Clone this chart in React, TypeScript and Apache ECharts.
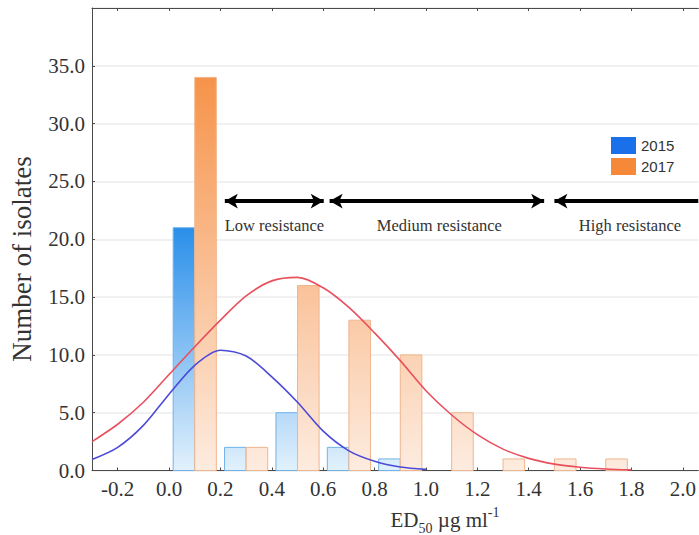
import React, { useEffect, useRef } from "react";
import * as echarts from "echarts";

// Histogram bins (centres, width 0.2) and counts
const binCentres = [0.1, 0.3, 0.5, 0.7, 0.9, 1.1, 1.3, 1.5, 1.7];
const counts2015 = [21, 2, 5, 2, 1, 0, 0, 0, 0];
const counts2017 = [34, 2, 16, 13, 10, 5, 1, 1, 1];

// Fitted curves
const fitX2015 = [-0.3, -0.2, -0.1, 0.0, 0.1, 0.2, 0.3, 0.4, 0.5, 0.6, 0.7, 0.8, 0.9, 1.0];
const fitY2015 = [0.95, 2.0, 3.9, 6.6, 9.1, 10.4, 9.9, 8.1, 5.9, 3.4, 1.7, 0.8, 0.3, 0.1];
const fitX2017 = [-0.3, -0.2, -0.1, 0.0, 0.1, 0.2, 0.3, 0.4, 0.5, 0.6, 0.7, 0.8, 0.9, 1.0, 1.1, 1.2, 1.3, 1.4, 1.5, 1.6, 1.7, 1.8];
const fitY2017 = [2.5, 4.0, 5.9, 8.3, 10.7, 13.0, 15.1, 16.4, 16.7, 15.8, 14.1, 11.9, 9.5, 6.9, 4.8, 3.1, 1.85, 1.05, 0.55, 0.28, 0.13, 0.05];

const xTickValues = [-0.2, 0.0, 0.2, 0.4, 0.6, 0.8, 1.0, 1.2, 1.4, 1.6, 1.8, 2.0];

// Resistance classes: [start, end, label]
const classStarts = [0.217, 0.625, 1.5];
const classEnds = [0.602, 1.46, 2.06];
const classLabels = ["Low resistance", "Medium resistance", "High resistance"];
const classLabelX = [0.41, 1.052, 1.794];

const BAR_W = 0.084;
const SERIF = "'Liberation Serif', 'Times New Roman', serif";
const SANS = "'Liberation Sans', Arial, sans-serif";

function makeBarSeries(name: string, counts: number[], side: number, top: string, bottom: string, stroke: string, legendColor: string) {
  const maxV = Math.max(...counts);
  return {
    name,
    type: "custom",
    xAxisIndex: 0,
    yAxisIndex: 0,
    encode: { x: 0, y: 1 },
    itemStyle: { color: legendColor },
    data: binCentres.map((c, i) => [c, counts[i]]),
    renderItem: (params: any, api: any) => {
      const c = api.value(0);
      const v = api.value(1);
      if (!v) return null;
      const x0 = side < 0 ? c - BAR_W : c;
      const x1 = side < 0 ? c : c + BAR_W;
      const p0 = api.coord([x0, 0]);
      const p1 = api.coord([x1, v]);
      const gTop = api.coord([0, maxV])[1];
      const gBot = api.coord([0, 0])[1];
      return {
        type: "rect",
        shape: { x: p0[0], y: p1[1], width: p1[0] - p0[0], height: p0[1] - p1[1] },
        style: {
          fill: new echarts.graphic.LinearGradient(0, gTop, 0, gBot, [
            { offset: 0, color: top },
            { offset: 1, color: bottom },
          ], true),
          stroke,
          lineWidth: 1,
        },
      };
    },
  };
}

export default function App() {
  const ref = useRef<HTMLDivElement>(null);
  useEffect(() => {
    if (!ref.current) return;
    const chart = echarts.init(ref.current, undefined, { renderer: "svg" });
    const axisColor = "#4a4a4a";
    chart.setOption({
      animation: false,
      backgroundColor: "#ffffff",
      grid: { left: 92, right: 0, top: 8, bottom: 64.5, containLabel: false },
      legend: {
        data: ["2015", "2017"],
        orient: "vertical",
        left: 606,
        top: 132,
        itemWidth: 25,
        itemHeight: 17,
        itemGap: 4,
        icon: "rect",
        textStyle: { fontFamily: SANS, fontSize: 15, color: "#333" },
      },
      xAxis: [
        {
          type: "value",
          min: -0.3,
          max: 2.06,
          axisLine: { show: true, onZero: false, lineStyle: { color: axisColor, width: 1 } },
          axisTick: { show: true, inside: true, length: 3, customValues: xTickValues, lineStyle: { color: axisColor } },
          axisLabel: {
            show: true,
            customValues: xTickValues,
            formatter: (v: number) => v.toFixed(1),
            fontFamily: SERIF,
            fontSize: 21,
            color: "#333",
            margin: 8,
          },
          splitLine: { show: false },
        },
        {
          type: "value",
          position: "top",
          min: -0.3,
          max: 2.06,
          axisLine: { show: true, onZero: false, lineStyle: { color: axisColor, width: 1 } },
          axisTick: { show: true, inside: true, length: 3, customValues: xTickValues, lineStyle: { color: axisColor } },
          axisLabel: { show: false },
          splitLine: { show: false },
        },
      ],
      yAxis: {
        type: "value",
        min: 0,
        max: 40,
        interval: 5,
        axisLine: { show: true, onZero: false, lineStyle: { color: axisColor, width: 1 } },
        axisTick: { show: true, inside: true, length: 3, lineStyle: { color: axisColor } },
        axisLabel: {
          formatter: (v: number) => (v >= 40 ? "" : v.toFixed(1)),
          fontFamily: SERIF,
          fontSize: 21,
          color: "#333",
          margin: 7,
        },
        splitLine: { show: true, lineStyle: { color: "#ececec", width: 1.5 } },
      },
      series: [
        makeBarSeries("2015", counts2015, -1, "#2a8fea", "#e2f1fc", "#6fb3ea", "#1a70ea"),
        makeBarSeries("2017", counts2017, 1, "#f6934a", "#fdece0", "#efb68e", "#f6883a"),
        {
          name: "fit2015",
          type: "line",
          smooth: 0.3,
          showSymbol: false,
          clip: true,
          data: fitX2015.map((x, i) => [x, fitY2015[i]]),
          lineStyle: { color: "#4c4ad8", width: 1.6 },
          itemStyle: { color: "#4c4ad8" },
          z: 5,
        },
        {
          name: "fit2017",
          type: "line",
          smooth: 0.3,
          showSymbol: false,
          clip: true,
          data: fitX2017.map((x, i) => [x, fitY2017[i]]),
          lineStyle: { color: "#e8505e", width: 1.6 },
          itemStyle: { color: "#e8505e" },
          z: 5,
          markLine: {
            silent: true,
            label: { show: false },
            lineStyle: { color: "#000", width: 4, type: "solid" },
            symbolSize: [11, 13],
            data: classStarts.map((s, i) => [
              { coord: [s, 23.3], symbol: "arrow" },
              { coord: [classEnds[i], 23.3], symbol: i === 2 ? "none" : "arrow" },
            ]),
          },
          markPoint: {
            silent: true,
            symbol: "rect",
            symbolSize: 1,
            itemStyle: { color: "rgba(0,0,0,0)" },
            label: {
              show: true,
              position: "inside",
              formatter: (p: any) => p.name,
              fontFamily: SERIF,
              fontSize: 16.5,
              color: "#333",
            },
            data: classLabels.map((l, i) => ({ name: l, coord: [classLabelX[i], 21.2] })),
          },
        },
      ],
      graphic: [
        {
          type: "text",
          x: 22,
          y: 259,
          rotation: Math.PI / 2,
          style: {
            text: "Number of isolates",
            fontFamily: SERIF,
            fontSize: 27,
            fill: "#333",
            textAlign: "center",
            textVerticalAlign: "middle",
          },
        },
        {
          type: "text",
          x: 445,
          y: 520,
          style: {
            text: "ED{sub|50} µg ml{sup|-1}",
            fontFamily: SERIF,
            fontSize: 21,
            fill: "#333",
            textAlign: "center",
            textVerticalAlign: "middle",
            rich: {
              sub: { fontFamily: SERIF, fontSize: 14, fill: "#333", verticalAlign: "bottom", lineHeight: 14, padding: [0, 0, -5, 0] },
              sup: { fontFamily: SERIF, fontSize: 14, fill: "#333", verticalAlign: "top", lineHeight: 14, padding: [-4, 0, 0, 0] },
            },
          },
        },
      ],
    });
    return () => chart.dispose();
  }, []);
  return <div ref={ref} style={{ width: 699, height: 535, position: "absolute", left: 0, top: 0 }} />;
}
